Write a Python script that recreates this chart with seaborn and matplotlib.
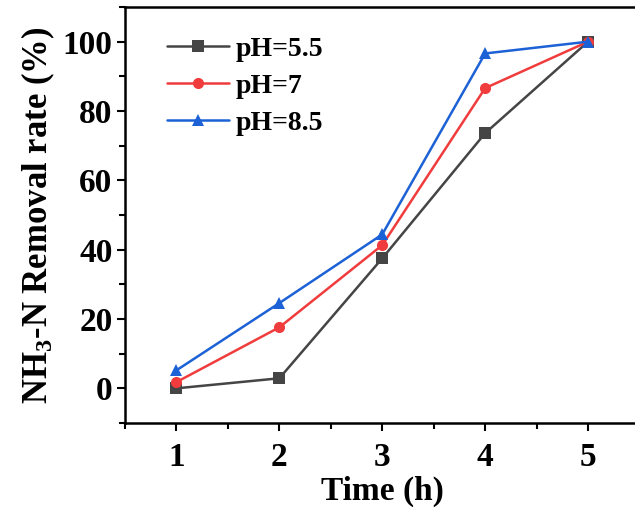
import matplotlib
matplotlib.use("Agg")
import matplotlib.pyplot as plt
import seaborn as sns
import pandas as pd
from matplotlib.ticker import MultipleLocator

time_h = [1, 2, 3, 4, 5]
ph_55 = [0.0, 2.9, 37.5, 73.6, 100.0]
ph_7 = [1.8, 17.6, 41.3, 86.6, 100.0]
ph_85 = [5.2, 24.6, 44.4, 96.6, 100.0]
series_labels = ["pH=5.5", "pH=7", "pH=8.5"]
colors = ["#454545", "#F03C3C", "#1C62D6"]
markers = ["s", "o", "^"]

df = pd.DataFrame({
    "Time": time_h * 3,
    "Rate": ph_55 + ph_7 + ph_85,
    "Series": [series_labels[0]] * 5 + [series_labels[1]] * 5 + [series_labels[2]] * 5,
})

sns.set_style("ticks")
plt.rcParams["font.family"] = ["Liberation Serif", "DejaVu Serif"]
plt.rcParams["font.weight"] = "bold"
plt.rcParams["text.color"] = "black"
plt.rcParams["axes.labelcolor"] = "black"
plt.rcParams["xtick.color"] = "black"
plt.rcParams["ytick.color"] = "black"
plt.rcParams["mathtext.fontset"] = "custom"
plt.rcParams["mathtext.rm"] = "Liberation Serif:bold"
plt.rcParams["mathtext.it"] = "Liberation Serif:bold"
plt.rcParams["mathtext.bf"] = "Liberation Serif:bold"

fig = plt.figure(figsize=(6.35, 5.13), dpi=100)
ax = fig.add_axes([125 / 635, 90 / 513, 514.5 / 635, 416 / 513])

sns.lineplot(data=df, x="Time", y="Rate", hue="Series", style="Series",
             hue_order=series_labels, style_order=series_labels,
             palette=colors, markers=markers, dashes=False,
             linewidth=1.8, markersize=8, markeredgewidth=0, ax=ax)

ax.set_xlim(0.5, 5.5)
ax.set_ylim(-10, 110)
ax.xaxis.set_major_locator(MultipleLocator(1))
ax.xaxis.set_minor_locator(MultipleLocator(0.5))
ax.yaxis.set_major_locator(MultipleLocator(20))
ax.yaxis.set_minor_locator(MultipleLocator(10))
ax.tick_params(which="major", direction="out", length=6, width=1.5, labelsize=24, pad=3,
               colors="black")
ax.tick_params(which="minor", direction="out", length=4, width=1.5, colors="black")
ax.tick_params(axis="x", which="major", pad=8)
for lab in ax.get_xticklabels() + ax.get_yticklabels():
    lab.set_fontweight("bold")
for s in ax.spines.values():
    s.set_linewidth(1.8)
    s.set_color("black")

ax.set_xlabel("Time (h)", fontsize=24, fontweight="bold", labelpad=2, color="black")
ax.set_ylabel(r"NH$_3$-N Removal rate (%)", fontsize=25, fontweight="bold", labelpad=4,
              color="black")

leg = ax.legend(loc="upper left", bbox_to_anchor=(0.05, 0.97), frameon=False,
                fontsize=20, handlelength=2.2, handletextpad=0.25,
                labelspacing=0.42, borderaxespad=0.2)
for t in leg.get_texts():
    t.set_fontweight("bold")
    t.set_color("black")

fig.savefig("out.png", dpi=100)
